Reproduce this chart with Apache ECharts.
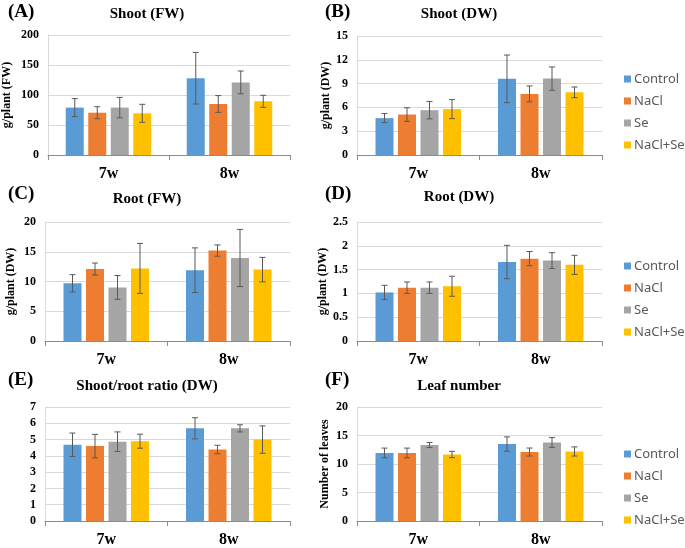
<!DOCTYPE html>
<html>
<head>
<meta charset="utf-8">
<script src="https://cdn.jsdelivr.net/npm/echarts@6/dist/echarts.min.js"></script>
<style>
  html, body { margin: 0; padding: 0; background: #fff; }
  #chart { width: 685px; height: 548px; }
</style>
</head>
<body>
<div id="chart"></div>
<script>
const categories = ['7w', '8w'];
const treatments = ['Control', 'NaCl', 'Se', 'NaCl+Se'];

// one row per treatment: [7w, 8w]
const shootFwMean = [[79, 128], [70.5, 85], [79, 121], [69.5, 89.5]];
const shootFwErr = [[15, 43], [10, 14], [17, 19], [15, 10]];
const shootDwMean = [[4.65, 9.6], [5.1, 7.7], [5.65, 9.63], [5.78, 7.9]];
const shootDwErr = [[0.57, 3.0], [0.85, 1.0], [1.1, 1.47], [1.2, 0.67]];
const rootFwMean = [[9.7, 11.9], [12.1, 15.2], [9.0, 13.95], [12.2, 12.0]];
const rootFwErr = [[1.45, 3.75], [1.0, 0.95], [2.0, 4.8], [4.2, 2.05]];
const rootDwMean = [[1.02, 1.66], [1.12, 1.73], [1.12, 1.69], [1.15, 1.6]];
const rootDwErr = [[0.15, 0.35], [0.12, 0.15], [0.12, 0.165], [0.21, 0.2]];
const ratioMean = [[4.68, 5.69], [4.6, 4.39], [4.87, 5.69], [4.9, 5.0]];
const ratioErr = [[0.72, 0.65], [0.72, 0.26], [0.6, 0.22], [0.43, 0.84]];
const leafMean = [[11.94, 13.5], [11.94, 12.1], [13.33, 13.78], [11.67, 12.2]];
const leafErr = [[0.85, 1.25], [0.85, 0.7], [0.45, 0.86], [0.55, 0.8]];

const yTicks = [
    { max: 200, interval: 50 },
    { max: 15, interval: 3 },
    { max: 20, interval: 5 },
    { max: 2.5, interval: 0.5 },
    { max: 7, interval: 1 },
    { max: 20, interval: 5 },
];

const panels = [
    { letter: '(A)', title: 'Shoot (FW)', yName: 'g/plant (FW)', mean: shootFwMean, err: shootFwErr },
    { letter: '(B)', title: 'Shoot (DW)', yName: 'g/plant (DW)', mean: shootDwMean, err: shootDwErr },
    { letter: '(C)', title: 'Root (FW)', yName: 'g/plant (DW)', mean: rootFwMean, err: rootFwErr },
    { letter: '(D)', title: 'Root (DW)', yName: 'g/plant (DW)', mean: rootDwMean, err: rootDwErr },
    { letter: '(E)', title: 'Shoot/root ratio (DW)', yName: '', mean: ratioMean, err: ratioErr },
    { letter: '(F)', title: 'Leaf number', yName: 'Number of leaves', mean: leafMean, err: leafErr },
];

// layout (px)
const boxes = [
    { left: 45, top: 35, height: 120, titleY: 7, letterX: 8, letterY: 3, nameGap: 35, legend: false },
    { left: 357, top: 36, height: 119, titleY: 7, letterX: 325, letterY: 3, nameGap: 21, legend: true },
    { left: 45, top: 222, height: 119, titleY: 192, letterX: 8, letterY: 185, nameGap: 28, legend: false },
    { left: 357, top: 222, height: 119, titleY: 190, letterX: 325, letterY: 185, nameGap: 23, legend: true },
    { left: 45, top: 407, height: 120, titleY: 379, letterX: 8, letterY: 371, nameGap: 30, legend: false },
    { left: 357, top: 407, height: 120, titleY: 379, letterX: 325, letterY: 371, nameGap: 26, legend: true },
];
const legendTops = [66, 0, 253, 0, 441];

const COLORS = ['#5B9BD5', '#ED7D31', '#A5A5A5', '#FFC000'];
const SERIF = '"Liberation Serif", "Times New Roman", serif';
const BAR_W = 18;
const BAR_STEP = 22.5;
const GRID_W = 245;

const chart = echarts.init(document.getElementById('chart'), null, { renderer: 'canvas' });

const titles = [];
const grids = [];
const xAxes = [];
const yAxes = [];
const series = [];
const legends = [];

panels.forEach((p, i) => {
    const b = boxes[i];
    titles.push({
        text: p.title,
        left: b.left + 102,
        top: b.titleY,
        textAlign: 'center',
        padding: 0,
        textStyle: { fontFamily: SERIF, fontSize: 15, fontWeight: 'bold', color: '#000' },
    });
    titles.push({
        text: p.letter,
        left: b.letterX,
        top: b.letterY,
        padding: 0,
        textStyle: { fontFamily: SERIF, fontSize: 19, fontWeight: 'bold', color: '#000' },
    });
    grids.push({ left: b.left, top: b.top, width: GRID_W, height: b.height });
    xAxes.push({
        type: 'category',
        gridIndex: i,
        data: categories,
        axisLine: { lineStyle: { color: '#8c8c8c' } },
        axisTick: { show: true, length: 5, interval: 0, lineStyle: { color: '#8c8c8c' } },
        axisLabel: { fontFamily: SERIF, fontSize: 16, fontWeight: 'bold', color: '#000', margin: 11 },
    });
    yAxes.push({
        type: 'value',
        gridIndex: i,
        min: 0,
        max: yTicks[i].max,
        interval: yTicks[i].interval,
        name: p.yName,
        nameLocation: 'middle',
        nameGap: b.nameGap,
        nameTextStyle: { fontFamily: SERIF, fontSize: 12, fontWeight: 'bold', color: '#000' },
        axisLine: { show: true, lineStyle: { color: '#d9d9d9' } },
        axisTick: { show: false },
        axisLabel: { fontFamily: SERIF, fontSize: 12, fontWeight: 'bold', color: '#000', margin: 9 },
        splitLine: { lineStyle: { color: '#d9d9d9' } },
    });
    treatments.forEach((name, k) => {
        series.push({
            name,
            type: 'bar',
            xAxisIndex: i,
            yAxisIndex: i,
            data: p.mean[k],
            barWidth: BAR_W,
            barGap: '25%',
            itemStyle: { color: COLORS[k] },
        });
    });
    const errData = [];
    treatments.forEach((name, k) => {
        categories.forEach((c, j) => {
            errData.push([j, p.mean[k][j] - p.err[k][j], p.mean[k][j] + p.err[k][j], k]);
        });
    });
    series.push({
        type: 'custom',
        xAxisIndex: i,
        yAxisIndex: i,
        data: errData,
        encode: { x: 0, y: [1, 2] },
        z: 5,
        silent: true,
        renderItem: (params, api) => {
            const lo = api.coord([api.value(0), api.value(1)]);
            const hi = api.coord([api.value(0), api.value(2)]);
            const x = lo[0] + (api.value(3) - 1.5) * BAR_STEP;
            const style = { stroke: '#595959', lineWidth: 1 };
            return {
                type: 'group',
                children: [
                    { type: 'line', shape: { x1: x, y1: lo[1], x2: x, y2: hi[1] }, style },
                    { type: 'line', shape: { x1: x - 3, y1: lo[1], x2: x + 3, y2: lo[1] }, style },
                    { type: 'line', shape: { x1: x - 3, y1: hi[1], x2: x + 3, y2: hi[1] }, style },
                ],
            };
        },
    });
    if (b.legend) {
        legends.push({
            data: treatments,
            orient: 'vertical',
            left: 619,
            top: legendTops[i - 1],
            itemWidth: 7,
            itemHeight: 7,
            itemGap: 6,
            icon: 'rect',
            textStyle: { fontFamily: '"Noto Sans", sans-serif', fontSize: 13, color: '#595959', lineHeight: 16, padding: [0, 0, 0, -2] },
        });
    }
});

chart.setOption({
    animation: false,
    color: COLORS,
    title: titles,
    legend: legends,
    grid: grids,
    xAxis: xAxes,
    yAxis: yAxes,
    series,
});
</script>
</body>
</html>
